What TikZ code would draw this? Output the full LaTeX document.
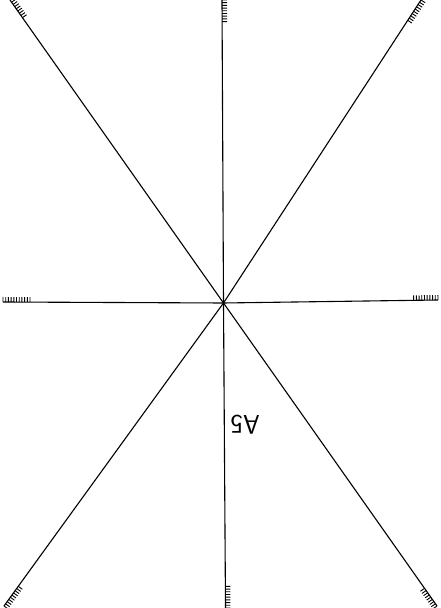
\documentclass[tikz,border=0pt]{standalone}
\usetikzlibrary{calc}
\begin{document}
\begin{tikzpicture}[x=1pt,y=1pt,
  axis/.style={line width=1.1pt,black},
  tick/.style={line width=0.9pt,black},
  lbl/.style={font=\fontsize{27}{30}\selectfont\sffamily,rotate=180,inner sep=0pt}]
\useasboundingbox (0,0) rectangle (440,608);
\coordinate (c) at (223.5,305);
\coordinate (t) at (222,608);
\coordinate (b) at (225.5,0);
\coordinate (l) at (3,306);
\coordinate (r) at (438,308);
\coordinate (tl) at (10,608);
\coordinate (tr) at (421,608);
\coordinate (bl) at (4,2);
\coordinate (br) at (437,2);
\foreach \e in {t,b,l,r,tl,tr,bl,br} \draw[axis] (\e) -- (c);
% tick marks
\newcommand\myticks[3]{%
  \foreach \i in {0,...,#3}{%
    \coordinate (p) at ($(#1)!{\i*2.7pt}!(c)$);
    \draw[tick] (p) -- ($(p)!5pt!#2:(c)$);
  }}
\myticks{t}{90}{8}
\myticks{b}{-90}{8}
\myticks{l}{90}{10}
\myticks{r}{-90}{9}
\myticks{tl}{90}{8}
\myticks{tr}{90}{9}
\myticks{bl}{-90}{9}
\myticks{br}{90}{8}
\node[lbl] (a5) at (245,183) {A5};
\end{tikzpicture}
\end{document}
